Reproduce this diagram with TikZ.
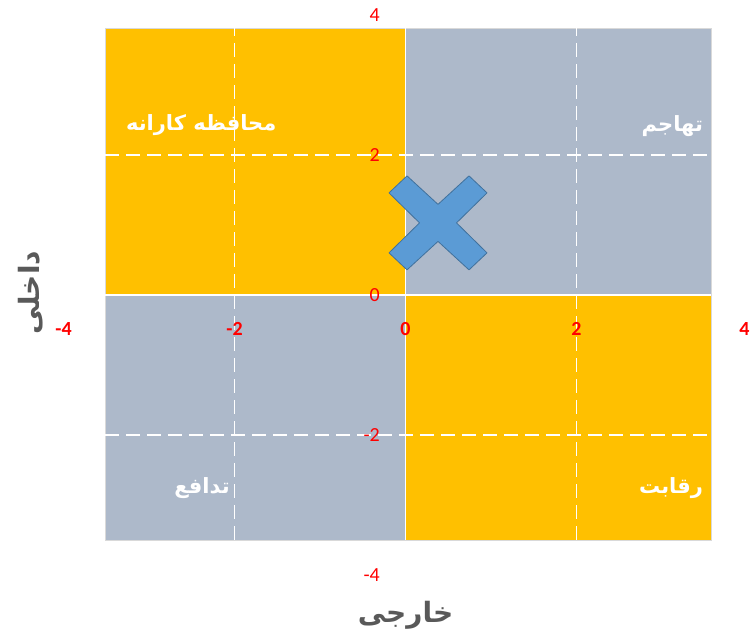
\documentclass[tikz,border=0pt]{standalone}
\usepackage{fontspec}
\setmainfont{Carlito}
\newfontfamily\arabicfont[Script=Arabic]{DejaVu Sans}
\TeXXeTstate=1
\definecolor{quadorange}{HTML}{FFC000}
\definecolor{quadgray}{HTML}{ADB9CA}
\definecolor{crossblue}{HTML}{5B9BD5}
\definecolor{crossedge}{HTML}{41719C}
\definecolor{titlegray}{HTML}{595959}
\tikzset{
    axisline/.style={white, line width=1.5pt}, % solid lines between the quadrants
    gridline/.style={white, line width=1.2pt, dash pattern=on 14pt off 7pt}, % dashed lines at +-2
    xticklabel/.style={red, font=\fontsize{20}{20}\selectfont\bfseries}, % numbers under the x axis
    yticklabel/.style={red, anchor=east, font=\fontsize{20}{20}\selectfont}, % numbers beside the y axis
    quadlabel/.style={white, font=\arabicfont\fontsize{21}{21}\selectfont\bfseries}, % names of the quadrants
    axistitle/.style={titlegray, font=\arabicfont\fontsize{28}{28}\selectfont\bfseries}, % axis titles
    crossmark/.style={fill=crossblue, draw=crossedge, line width=0.8pt, line join=round}, % the position marker
    }
\begin{document}
\begin{tikzpicture}[x=85.5pt, y=70pt]
\useasboundingbox (-4.743,-4.929) rectangle (4.029,4.214);

% quadrants
\fill[quadorange] (-3.515,0) rectangle (0,3.814);
\fill[quadgray] (0,0) rectangle (3.573,3.814);
\fill[quadgray] (-3.515,-3.5) rectangle (0,0);
\fill[quadorange] (0,-3.5) rectangle (3.573,0);
\draw[gray!30, line width=0.5pt] (-3.515,-3.5) rectangle (3.573,3.814);

% axes and grid
\coordinate (xmin) at (-3.515,0);
\coordinate (xmax) at (3.573,0);
\coordinate (ymin) at (0,-3.5);
\coordinate (ymax) at (0,3.814);
\draw[gridline] (-2,-3.5) -- (-2,3.814);
\draw[gridline] (2,-3.5) -- (2,3.814);
\draw[gridline] (-3.515,2) -- (3.573,2);
\draw[gridline] (-3.515,-2) -- (3.573,-2);
\draw[axisline] (xmin) -- (xmax);
\draw[axisline] (ymin) -- (ymax);

% tick labels
\node[xticklabel] (xtm4) at (-4,-0.49) {-4};
\node[xticklabel] (xtm2) at (-2,-0.49) {-2};
\node[xticklabel] (xt0) at (0,-0.49) {0};
\node[xticklabel] (xt2) at (2,-0.49) {2};
\node[xticklabel] (xt4) at (3.965,-0.49) {4};
\node[yticklabel] (yt4) at (-0.26,4) {4};
\node[yticklabel] (yt2) at (-0.26,2) {2};
\node[yticklabel] (yt0) at (-0.26,0) {0};
\node[yticklabel] (ytm2) at (-0.26,-2) {-2};
\node[yticklabel] (ytm4) at (-0.26,-4) {-4};

% quadrant names
\node[quadlabel] (conservative) at (-2.39,2.43) {\beginR محافظه کارانه\endR};
\node[quadlabel, anchor=east] (aggressive) at (3.52,2.41) {\beginR تهاجم\endR};
\node[quadlabel] (defensive) at (-2.38,-2.76) {\beginR تدافع\endR};
\node[quadlabel, anchor=east] (competitive) at (3.52,-2.76) {\beginR رقابت\endR};

% axis titles
\node[axistitle, rotate=90] (internal) at (-4.38,0.03) {\beginR داخلی\endR};
\node[axistitle] (external) at (0,-4.57) {\beginR خارجی\endR};

% position
\coordinate (mark) at (0.38,1.03);
\filldraw[crossmark, shift={(mark)}, x=1pt, y=1pt] (0,18.5) -- (31,47) -- (49,30) -- (18.5,0) -- (49,-30) -- (31,-47) -- (0,-18.5) -- (-31,-47) -- (-49,-30) -- (-18.5,0) -- (-49,30) -- (-31,47) -- cycle;

\end{tikzpicture}
\end{document}
